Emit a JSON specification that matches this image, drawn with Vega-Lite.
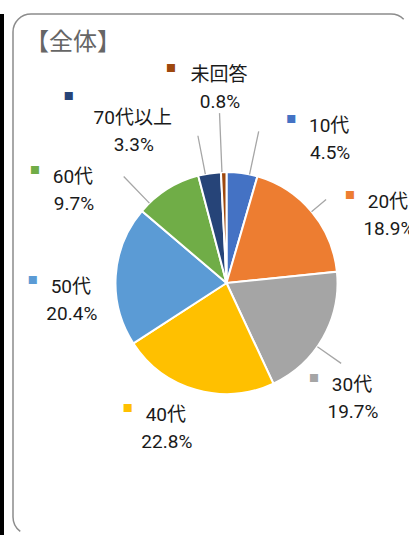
{
  "$schema": "https://vega.github.io/schema/vega-lite/v6.json",
  "padding": {"left": 0, "top": 13, "right": 0, "bottom": 0},
  "background": "white",
  "spacing": 8,
  "config": {"font": "Roboto, Noto Sans CJK JP"},
  "hconcat": [
    {
      "width": 4,
      "height": 522,
      "view": {"fill": "black", "stroke": null},
      "data": {"values": []},
      "mark": "rect"
    },
    {
      "width": 396,
      "height": 521,
      "view": {"fill": "white", "stroke": "#8c8c8c", "strokeWidth": 1.5, "cornerRadius": 18, "strokeDash": [374, 898.6, 530.6, 10]},
      "title": {
        "text": "【全体】",
        "anchor": "start",
        "frame": "group",
        "orient": "top",
        "offset": -20,
        "baseline": "top",
        "dx": 12,
        "dy": 21,
        "font": "Noto Sans CJK JP",
        "fontSize": 24,
        "fontWeight": "normal",
        "color": "#666666"
      },
      "data": {
        "values": [
          {"cat": "10代", "value": 4.5, "order": 1},
          {"cat": "20代", "value": 18.9, "order": 2},
          {"cat": "30代", "value": 19.7, "order": 3},
          {"cat": "40代", "value": 22.8, "order": 4},
          {"cat": "50代", "value": 20.4, "order": 5},
          {"cat": "60代", "value": 9.7, "order": 6},
          {"cat": "70代以上", "value": 3.3, "order": 7},
          {"cat": "未回答", "value": 0.8, "order": 8}
        ]
      },
      "transform": [
        {"window": [{"op": "sum", "field": "value", "as": "cum"}], "sort": [{"field": "order"}], "frame": [null, 0]},
        {"calculate": "datum.cum - datum.value / 2", "as": "mid"},
        {"calculate": "format(datum.value, '.1f') + '%'", "as": "pct"}
      ],
      "layer": [
        {
          "mark": {"type": "arc", "outerRadius": 111, "stroke": "white", "strokeWidth": 2, "xOffset": 15.5, "yOffset": 8.5},
          "encoding": {
            "theta": {"field": "value", "type": "quantitative", "stack": true},
            "order": {"field": "order", "type": "quantitative"},
            "color": {
              "field": "cat", "type": "nominal", "legend": null,
              "scale": {
                "domain": ["10代", "20代", "30代", "40代", "50代", "60代", "70代以上", "未回答"],
                "range": ["#4472C4", "#ED7D31", "#A5A5A5", "#FFC000", "#5B9BD5", "#70AD47", "#264478", "#9E480E"]
              }
            }
          }
        },
        {
          "transform": [{"filter": {"field": "cat", "oneOf": ["10代", "20代", "30代", "60代", "70代以上", "未回答"]}}],
          "mark": {
            "type": "arc", "filled": false, "stroke": "#a6a6a6", "strokeWidth": 1.3,
            "innerRadius": 111,
            "outerRadius": {"expr": "[155,130,140,111,111,148,150,170][datum.order-1]"},
            "thetaOffset": {"expr": "[0.068,-0.003,0.095,0,0,-0.206,-0.038,-0.016][datum.order-1]"},
            "theta2Offset": {"expr": "[0.068,-0.003,0.095,0,0,-0.206,-0.038,-0.016][datum.order-1]"},
            "xOffset": 15.5, "yOffset": 8.5
          },
          "encoding": {
            "theta": {"field": "mid", "type": "quantitative", "stack": null},
            "theta2": {"field": "mid"}
          }
        },
        {
          "mark": {
            "type": "text", "text": "■", "font": "Noto Sans CJK JP", "fontSize": 10,
            "align": "center", "baseline": "middle", "clip": true,
            "radius": {"expr": "[182.5,178,165.5,151,156,183,184.5,202][datum.order-1]"},
            "thetaOffset": {"expr": "[0.456,0.260,0.194,0.134,-0.129,-0.434,-0.379,-0.012][datum.order-1]"},
            "dx": {"expr": "datum.cat == '70代以上' ? -64 : datum.cat == '未回答' ? -48 : -38"},
            "dy": {"expr": "datum.cat == '70代以上' ? -27 : -12"},
            "xOffset": 15.5, "yOffset": 8.5
          },
          "encoding": {
            "theta": {"field": "mid", "type": "quantitative"},
            "color": {"field": "cat", "type": "nominal", "legend": null}
          }
        },
        {
          "mark": {
            "type": "text", "fontSize": 19, "color": "#1a1a1a",
            "align": "center", "baseline": "alphabetic", "clip": true,
            "radius": {"expr": "[182.5,178,165.5,151,156,183,184.5,202][datum.order-1]"},
            "thetaOffset": {"expr": "[0.456,0.260,0.194,0.134,-0.129,-0.434,-0.379,-0.012][datum.order-1]"},
            "xOffset": 15.5, "yOffset": 8.5
          },
          "encoding": {
            "theta": {"field": "mid", "type": "quantitative"},
            "text": {"field": "cat"}
          }
        },
        {
          "mark": {
            "type": "text", "fontSize": 19, "color": "#1a1a1a",
            "align": "center", "baseline": "alphabetic", "clip": true, "dy": 27, "dx": 1,
            "radius": {"expr": "[182.5,178,165.5,151,156,183,184.5,202][datum.order-1]"},
            "thetaOffset": {"expr": "[0.456,0.260,0.194,0.134,-0.129,-0.434,-0.379,-0.012][datum.order-1]"},
            "xOffset": 15.5, "yOffset": 8.5
          },
          "encoding": {
            "theta": {"field": "mid", "type": "quantitative"},
            "text": {"field": "pct"}
          }
        }
      ]
    }
  ]
}
